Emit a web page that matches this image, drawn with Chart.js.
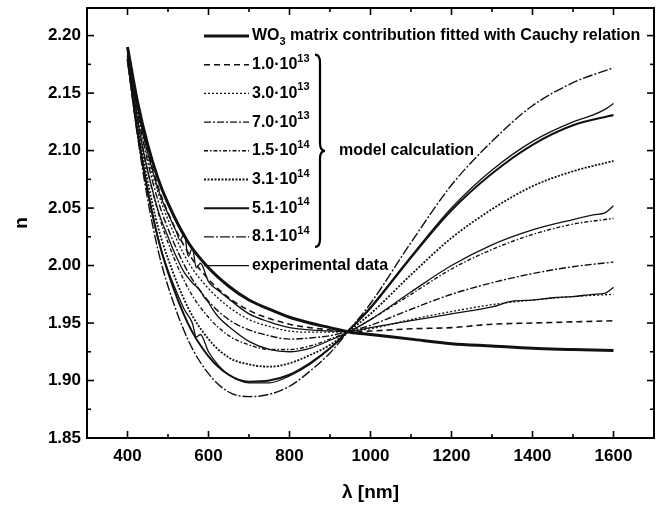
<!DOCTYPE html>
<html><head><meta charset="utf-8">
<script src="https://cdn.jsdelivr.net/npm/chart.js@4.4.1/dist/chart.umd.min.js"></script>
<style>html,body{margin:0;padding:0;background:#fff;}#wrap{width:663px;height:508px;}</style>
</head><body><div id="wrap"><canvas id="c" width="663" height="508"></canvas></div>
<script>
// ---- data ----
const lambdaModel = [400,425,450,475,500,550,600,650,700,750,800,850,900,950,1000,1100,1200,1300,1400,1500,1600];
const nWO3   = [2.190,2.142,2.105,2.076,2.054,2.020,1.998,1.982,1.970,1.962,1.955,1.950,1.946,1.942,1.940,1.936,1.932,1.930,1.928,1.927,1.926];
const n1_0e13 = [2.189,2.139,2.100,2.069,2.046,2.011,1.988,1.972,1.961,1.954,1.949,1.946,1.944,1.942,1.943,1.945,1.946,1.949,1.950,1.951,1.952];
const n3_0e13 = [2.188,2.136,2.095,2.064,2.040,2.003,1.980,1.964,1.953,1.947,1.943,1.942,1.942,1.943,1.945,1.953,1.960,1.966,1.970,1.973,1.975];
const n7_0e13 = [2.186,2.133,2.090,2.057,2.032,1.994,1.969,1.953,1.944,1.939,1.936,1.937,1.939,1.943,1.948,1.962,1.975,1.985,1.993,1.999,2.003];
const n1_5e14 = [2.184,2.128,2.082,2.047,2.020,1.980,1.955,1.939,1.931,1.927,1.927,1.930,1.936,1.943,1.953,1.975,1.997,2.014,2.027,2.036,2.041];
const n3_1e14 = [2.182,2.122,2.073,2.034,2.006,1.963,1.936,1.920,1.914,1.912,1.915,1.922,1.931,1.944,1.958,1.992,2.024,2.049,2.069,2.082,2.091];
const n5_1e14 = [2.180,2.117,2.065,2.024,1.994,1.949,1.921,1.905,1.899,1.900,1.905,1.915,1.928,1.945,1.963,2.007,2.048,2.080,2.105,2.122,2.131];
const n8_1e14 = [2.178,2.112,2.057,2.014,1.982,1.935,1.906,1.890,1.886,1.888,1.895,1.908,1.924,1.945,1.967,2.020,2.070,2.108,2.139,2.159,2.172];

const lambdaExpA = [400,420,440,460,480,500,520,530,540,550,560,570,580,600,625,650,700,750,800,850,900,950,1000,1100,1200,1300,1350,1400,1450,1500,1550,1580,1600];
const nExpA      = [2.186,2.146,2.112,2.085,2.062,2.045,2.030,2.022,2.028,2.008,2.015,1.998,2.002,1.986,1.978,1.971,1.958,1.951,1.946,1.944,1.943,1.943,1.946,1.952,1.958,1.964,1.969,1.970,1.972,1.973,1.975,1.976,1.981];
const lambdaExpB = [400,420,440,460,480,500,520,540,560,580,590,600,610,625,650,700,750,800,850,900,950,1000,1100,1200,1300,1400,1500,1550,1580,1600];
const nExpB      = [2.184,2.138,2.098,2.068,2.043,2.025,2.008,1.994,1.985,1.978,1.972,1.968,1.962,1.955,1.947,1.934,1.927,1.925,1.928,1.935,1.943,1.953,1.977,2.000,2.018,2.031,2.040,2.044,2.046,2.052];
const lambdaExpC = [400,420,440,460,480,500,520,540,560,570,580,600,625,650,700,750,800,850,900,950,1000,1100,1200,1300,1400,1500,1550,1580,1600];
const nExpC      = [2.180,2.125,2.082,2.047,2.018,1.996,1.978,1.962,1.950,1.938,1.940,1.925,1.913,1.905,1.898,1.898,1.904,1.914,1.928,1.945,1.964,2.008,2.050,2.083,2.108,2.125,2.131,2.136,2.141];

const xTickValues = [400,600,800,1000,1200,1400,1600];
const yTickValues = [1.85,1.90,1.95,2.00,2.05,2.10,2.15,2.20];
const legendLabels = ['WO_3 matrix contribution fitted with Cauchy relation','1.0·10^13','3.0·10^13','7.0·10^13','1.5·10^14','3.1·10^14','5.1·10^14','8.1·10^14','experimental data'];
const braceText = 'model calculation';
const xTitle = 'λ [nm]';
const yTitle = 'n';

// ---- build datasets ----
const pts = (xs, ys) => xs.map((x,i)=>({x, y: ys[i]}));
const K = '#111';
const datasets = [
  {data: pts(lambdaExpA,nExpA), borderWidth:1.3, borderDash:[], tension:0, leg:-1},
  {data: pts(lambdaExpB,nExpB), borderWidth:1.3, borderDash:[], tension:0, leg:-1},
  {data: pts(lambdaExpC,nExpC), borderWidth:1.3, borderDash:[], tension:0, leg:8},
  {data: pts(lambdaModel,n1_0e13), borderWidth:1.6, borderDash:[6,4], leg:1},
  {data: pts(lambdaModel,n3_0e13), borderWidth:1.3, borderDash:[2,2], leg:2},
  {data: pts(lambdaModel,n7_0e13), borderWidth:1.4, borderDash:[7,2,2,2], leg:3},
  {data: pts(lambdaModel,n1_5e14), borderWidth:1.4, borderDash:[4,2,1.5,2], leg:4},
  {data: pts(lambdaModel,n3_1e14), borderWidth:1.8, borderDash:[2,1.5], leg:5},
  {data: pts(lambdaModel,n5_1e14), borderWidth:2, borderDash:[], leg:6},
  {data: pts(lambdaModel,n8_1e14), borderWidth:1.4, borderDash:[10,2,2,2], leg:7},
  {data: pts(lambdaModel,nWO3), borderWidth:3, borderDash:[], leg:0}
].map(d => Object.assign({borderColor:K, pointRadius:0, fill:false, cubicInterpolationMode:'monotone', tension:0.4}, d));

const FONT = 'Liberation Sans, Arial, sans-serif';

const framePlugin = {
  id:'frame',
  afterDraw(chart){
    const {ctx, chartArea:a, scales:{x, y}} = chart;
    ctx.save();
    ctx.strokeStyle = '#000'; ctx.setLineDash([]);
    ctx.lineWidth = 2;
    ctx.strokeRect(a.left, a.top, a.right-a.left, a.bottom-a.top);
    ctx.lineWidth = 1.6;
    const tick = (x1,y1,x2,y2)=>{ctx.beginPath();ctx.moveTo(x1,y1);ctx.lineTo(x2,y2);ctx.stroke();};
    for (let v=300; v<=1700; v+=100){
      const px = x.getPixelForValue(v);
      const L = (v%200===0) ? 7 : 4;
      tick(px,a.bottom,px,a.bottom-L); tick(px,a.top,px,a.top+L);
    }
    for (let k=0; k<=14; k++){
      const v = 1.85 + k*0.025;
      const py = y.getPixelForValue(v);
      const L = (k%2===0) ? 7 : 4;
      tick(a.left,py,a.left+L,py); tick(a.right,py,a.right-L,py);
    }
    ctx.restore();
  }
};

const legendPlugin = {
  id:'customLegend',
  afterDraw(chart){
    const ctx = chart.ctx;
    const x0=204, x1=249, tx=252, y0=36, dy=28.7;
    const fs = 16;
    ctx.save();
    ctx.textBaseline = 'middle';
    ctx.fillStyle = '#000';
    const rows = [];
    chart.data.datasets.forEach(ds => { if (ds.leg >= 0) rows[ds.leg] = ds; });
    rows.forEach((ds,i)=>{
      const y = y0 + i*dy;
      ctx.beginPath(); ctx.setLineDash(ds.borderDash||[]); ctx.lineWidth = ds.borderWidth; ctx.strokeStyle = ds.borderColor;
      ctx.moveTo(x0,y); ctx.lineTo(x1,y); ctx.stroke();
      ctx.setLineDash([]);
      const lab = legendLabels[i];
      let x = tx;
      const m = lab.match(/^(.*?)([_^])(\d+)(.*)$/);
      const parts = m ? [[m[1],0],[m[3], m[2]==='^'?-1:1],[m[4],0]] : [[lab,0]];
      parts.forEach(([t,s])=>{
        if(!t) return;
        ctx.font = s ? ('bold 11px ' + FONT) : ('bold ' + fs + 'px ' + FONT);
        ctx.fillText(t, x, y + (s<0 ? -6 : s>0 ? 6 : 0));
        x += ctx.measureText(t).width;
      });
    });
    // brace
    const bx = 320, top = y0+dy*1-10, bot = y0+dy*7+10, mid = y0+dy*4;
    ctx.lineWidth = 2.2; ctx.strokeStyle = '#000';
    ctx.beginPath();
    ctx.moveTo(bx-5, top);
    ctx.quadraticCurveTo(bx, top, bx, top+8);
    ctx.lineTo(bx, mid-8);
    ctx.quadraticCurveTo(bx, mid, bx+5, mid);
    ctx.quadraticCurveTo(bx, mid, bx, mid+8);
    ctx.lineTo(bx, bot-8);
    ctx.quadraticCurveTo(bx, bot, bx-5, bot);
    ctx.stroke();
    ctx.font = 'bold ' + fs + 'px ' + FONT;
    ctx.fillText(braceText, 339, mid);
    ctx.restore();
  }
};

new Chart(document.getElementById('c'), {
  type:'line',
  data:{ datasets },
  options:{
    responsive:false, animation:false, devicePixelRatio:1,
    layout:{ padding:{ left:0, right:9, top:8, bottom:0 } },
    plugins:{ legend:{display:false}, tooltip:{enabled:false} },
    scales:{
      x:{ type:'linear', min:300, max:1700,
          afterBuildTicks: s => { s.ticks = xTickValues.map(v=>({value:v})); },
          afterFit: s => { s.height = 70; s.paddingLeft = 0; s.paddingRight = 0; },
          grid:{ display:false, drawTicks:false },
          border:{ display:true, color:'#000', width:2 },
          ticks:{ color:'#000', padding:8, font:{ family:FONT, size:17, weight:'bold' }, callback: v => String(v), maxRotation:0 },
          title:{ display:true, text:xTitle, color:'#000', font:{ family:FONT, size:19, weight:'bold' }, padding:{top:6, bottom:4} } },
      y:{ type:'linear', min:1.85, max:2.224,
          afterBuildTicks: s => { s.ticks = yTickValues.map(v=>({value:v})); },
          afterFit: s => { s.width = 87; s.paddingTop = 0; s.paddingBottom = 0; },
          grid:{ display:false, drawTicks:false },
          border:{ display:true, color:'#000', width:2 },
          ticks:{ color:'#000', padding:6, font:{ family:FONT, size:17, weight:'bold' }, callback: v => Number(v).toFixed(2) },
          title:{ display:true, text:yTitle, color:'#000', font:{ family:FONT, size:19, weight:'bold' }, padding:{top:10, bottom:0} } }
    }
  },
  plugins:[framePlugin, legendPlugin]
});
</script></body></html>
